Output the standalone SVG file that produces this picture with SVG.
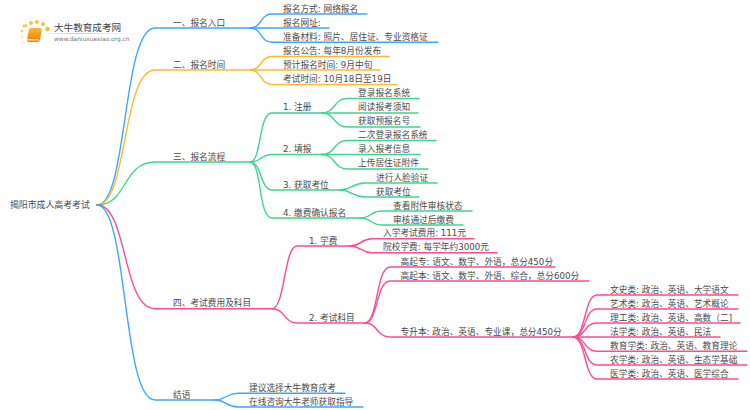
<svg xmlns="http://www.w3.org/2000/svg" width="750" height="410" viewBox="0 0 750 410">
<defs>
<linearGradient id="bookg" x1="0" y1="0" x2="0" y2="1"><stop offset="0" stop-color="#ffb52e"/><stop offset="1" stop-color="#ee7d10"/></linearGradient>
<linearGradient id="ruleg" x1="0" y1="0" x2="1" y2="0"><stop offset="0" stop-color="#bbb" stop-opacity="0"/><stop offset="0.4" stop-color="#ccc"/><stop offset="1" stop-color="#ddd" stop-opacity="0"/></linearGradient>
</defs>
<style>
text{font-family:"DejaVu Sans","Noto Sans CJK SC",sans-serif;font-size:8.7px;fill:#4a4a4a}
path{fill:none;stroke-width:1.4;stroke-linecap:round}
.b{stroke:#3fa7ff}.o{stroke:#ffb830}.g{stroke:#3ed68e}.p{stroke:#ff4a94}
</style>
<rect width="750" height="410" fill="#ffffff"/>
<g id="logo">
<circle cx="24" cy="26" r="1.6" fill="#ffc95a"/>
<circle cx="22" cy="31" r="1.3" fill="#ffd270"/><circle cx="26" cy="25.500" r="1.700" fill="#ffc95a"/><circle cx="31" cy="23" r="2" fill="#ffc24a"/><circle cx="37" cy="22" r="2.100" fill="#ffc24a"/><circle cx="43" cy="24" r="2.100" fill="#ffbe40"/><circle cx="47.500" cy="29" r="2.300" fill="#ffbe40"/><circle cx="22" cy="37" r="1.100" fill="#ffd98a"/><circle cx="23.500" cy="42.500" r="1" fill="#ffe0a0"/>
<rect x="28" y="28" width="13" height="14" rx="2" fill="url(#bookg)" transform="skewX(-10) translate(6,0)"/>
<rect x="27" y="39" width="12" height="1.500" fill="#ffe2a8"/>
<rect x="40" y="33" width="95" height="1" fill="url(#ruleg)"/>
<text x="54" y="31" style="font-size:9.6px;fill:#444">大牛教育成考网</text>
<text x="54" y="41" style="font-size:5.9px;fill:#777">www.daniuxuexiao.org.cn</text>
</g>
<g id="connectors">
<path class="b" d="M97,205C128,205 122,28 155,28L250,28"/>
<path class="b" d="M250,28C262,28 260,14 272,14L367,14"/>
<path class="b" d="M250,28L329,28"/>
<path class="b" d="M250,28C262,28 260,42.300 272,42.300L438,42.300"/>
<path class="o" d="M97,205C128,205 122,70 155,70L250,70"/>
<path class="o" d="M250,70C262,70 260,56.500 272,56.500L389,56.500"/>
<path class="o" d="M250,70L380,70"/>
<path class="o" d="M250,70C262,70 260,84.500 272,84.500L397,84.500"/>
<path class="g" d="M97,205C128,205 122,162 155,162L250,162"/>
<path class="g" d="M250,162C262,162 258,113 272,113L322,113"/>
<path class="g" d="M322,113C335,113 334,98.500 347,98.500L419,98.500"/>
<path class="g" d="M322,113L418,113"/>
<path class="g" d="M322,113C335,113 334,127 347,127L420,127"/>
<path class="g" d="M250,162C262,162 260,154.500 272,154.500L322,154.500"/>
<path class="g" d="M322,154.500C335,154.500 334,140.500 347,140.500L436,140.500"/>
<path class="g" d="M322,154.500L420,154.500"/>
<path class="g" d="M322,154.500C335,154.500 334,169 347,169L428,169"/>
<path class="g" d="M250,162C262,162 260,190 272,190L340,190"/>
<path class="g" d="M340,190C352,190 352,183 365,183L437,183"/>
<path class="g" d="M340,190C352,190 352,197 365,197L419,197"/>
<path class="g" d="M250,162C262,162 258,218 272,218L360,218"/>
<path class="g" d="M360,218C372,218 370,211 382,211L472,211"/>
<path class="g" d="M360,218C372,218 370,225 382,225L463,225"/>
<path class="p" d="M97,205C128,205 122,308.700 155,308.700L272,308.700"/>
<path class="p" d="M272,308.700C285,308.700 284,246 297,246L350,246"/>
<path class="p" d="M350,246C361,246 361,238.700 372,238.700L474,238.700"/>
<path class="p" d="M350,246C361,246 361,252.700 372,252.700L497,252.700"/>
<path class="p" d="M272,308.700C285,308.700 284,323 297,323L365,323"/>
<path class="p" d="M365,323C378,323 376,267 390,267L555,267"/>
<path class="p" d="M365,323C378,323 376,281 390,281L589,281"/>
<path class="p" d="M365,323C378,323 376,337 390,337L573,337"/>
<path class="p" d="M573,337C586,337 584,295 597,295L738,295"/>
<path class="p" d="M573,337C586,337 584,309 597,309L738,309"/>
<path class="p" d="M573,337C586,337 584,323 597,323L740,323"/>
<path class="p" d="M573,337L720,337"/>
<path class="p" d="M573,337C586,337 584,351.300 597,351.300L747,351.300"/>
<path class="p" d="M573,337C586,337 584,365 597,365L747,365"/>
<path class="p" d="M573,337C586,337 584,379 597,379L738,379"/>
<path class="b" d="M97,205C128,205 122,400 155,400L215,400"/>
<path class="b" d="M215,400C226,400 226,393.300 238,393.300L345,393.300"/>
<path class="b" d="M215,400C226,400 226,407 238,407L363,407"/>
</g>
<g id="root"><text x="10" y="208" style="font-size:8.9px">揭阳市成人高考考试</text></g>
<g id="n1"><text x="173" y="26">一、报名入口</text></g>
<g id="n1a"><text x="283" y="12">报名方式: 网络报名</text></g>
<g id="n1b"><text x="283" y="26">报名网址:</text></g>
<g id="n1c"><text x="283" y="40">准备材料: 照片、居住证、专业资格证</text></g>
<g id="n2"><text x="173" y="68">二、报名时间</text></g>
<g id="n2a"><text x="283" y="54">报名公告: 每年8月份发布</text></g>
<g id="n2b"><text x="283" y="68">预计报名时间: 9月中旬</text></g>
<g id="n2c"><text x="283" y="82">考试时间: 10月18日至19日</text></g>
<g id="n3"><text x="173" y="160">三、报名流程</text></g>
<g id="n31"><text x="283" y="110">1. 注册</text></g>
<g id="n31a"><text x="358" y="96">登录报名系统</text></g>
<g id="n31b"><text x="358" y="110">阅读报考须知</text></g>
<g id="n31c"><text x="358" y="124">获取预报名号</text></g>
<g id="n32"><text x="283" y="152">2. 填报</text></g>
<g id="n32a"><text x="358" y="138">二次登录报名系统</text></g>
<g id="n32b"><text x="358" y="152">录入报考信息</text></g>
<g id="n32c"><text x="358" y="166">上传居住证附件</text></g>
<g id="n33"><text x="283" y="188">3. 获取考位</text></g>
<g id="n33a"><text x="376" y="180.500">进行人脸验证</text></g>
<g id="n33b"><text x="376" y="194.500">获取考位</text></g>
<g id="n34"><text x="283" y="216">4. 缴费确认报名</text></g>
<g id="n34a"><text x="393" y="208.500">查看附件审核状态</text></g>
<g id="n34b"><text x="393" y="222.500">审核通过后缴费</text></g>
<g id="n4"><text x="173" y="306">四、考试费用及科目</text></g>
<g id="n41"><text x="309" y="243.500">1. 学费</text></g>
<g id="n41a"><text x="383" y="236">入学考试费用: 111元</text></g>
<g id="n41b"><text x="383" y="250">院校学费: 每学年约3000元</text></g>
<g id="n42"><text x="309" y="320.500">2. 考试科目</text></g>
<g id="n42a"><text x="400.500" y="264.500">高起专: 语文、数学、外语，总分450分</text></g>
<g id="n42b"><text x="400.500" y="278.500">高起本: 语文、数学、外语、综合，总分600分</text></g>
<g id="n42c"><text x="400.500" y="334.500">专升本: 政治、英语、专业课，总分450分</text></g>
<g id="n42c1"><text x="610" y="292.500">文史类: 政治、英语、大学语文</text></g>
<g id="n42c2"><text x="610" y="306.500">艺术类: 政治、英语、艺术概论</text></g>
<g id="n42c3"><text x="610" y="320.500">理工类: 政治、英语、高数（二]</text></g>
<g id="n42c4"><text x="610" y="334.500">法学类: 政治、英语、民法</text></g>
<g id="n42c5"><text x="610" y="348.500">教育学类: 政治、英语、教育理论</text></g>
<g id="n42c6"><text x="610" y="362.500">农学类: 政治、英语、生态学基础</text></g>
<g id="n42c7"><text x="610" y="376.500">医学类: 政治、英语、医学综合</text></g>
<g id="n5"><text x="173" y="398">结语</text></g>
<g id="n5a"><text x="249" y="391">建议选择大牛教育成考</text></g>
<g id="n5b"><text x="249" y="405">在线咨询大牛老师获取指导</text></g>
</svg>
